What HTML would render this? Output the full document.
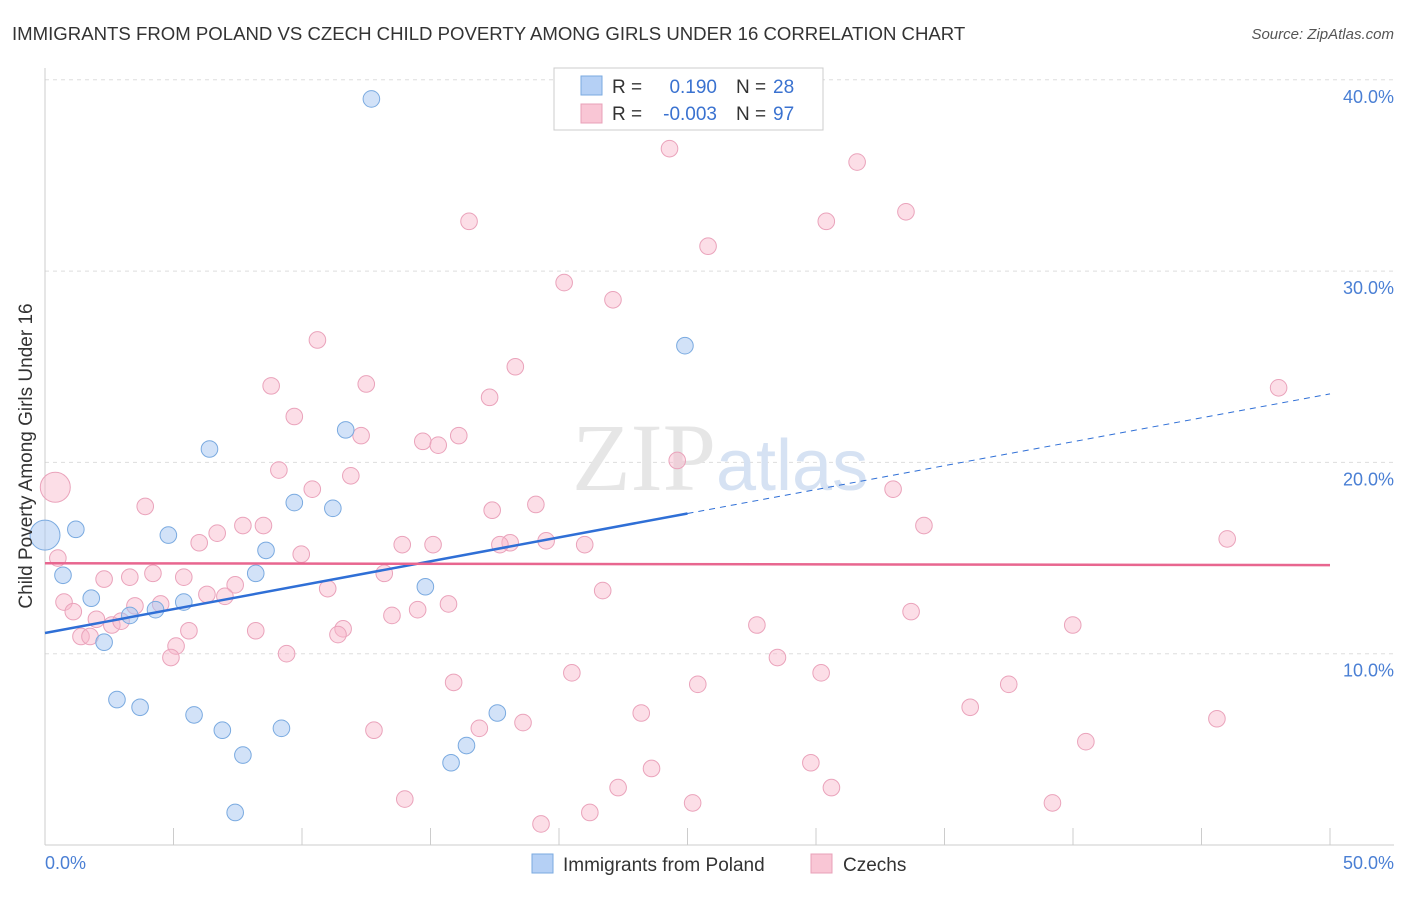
<!DOCTYPE html>
<html><head><meta charset="utf-8"><style>
body{margin:0;background:#fff;font-family:"Liberation Sans",sans-serif;}
</style></head><body>
<svg width="1406" height="892" xmlns="http://www.w3.org/2000/svg">
<text x="12" y="40" font-size="18.6" fill="#333">IMMIGRANTS FROM POLAND VS CZECH CHILD POVERTY AMONG GIRLS UNDER 16 CORRELATION CHART</text>
<text x="1394" y="39" font-size="15" fill="#555" font-style="italic" text-anchor="end">Source: ZipAtlas.com</text>
<g id="grid"></g>
<text x="716" y="490" font-size="96" fill="#e6e6e6" text-anchor="end" font-family="Liberation Serif">ZIP</text>
<text x="716" y="490" font-size="72" fill="#d6e2f3">atlas</text>
<g id="pts"></g>
<g id="lines"></g>
<text x="32" y="456" font-size="19" fill="#333" text-anchor="middle" transform="rotate(-90 32 456)">Child Poverty Among Girls Under 16</text>
<text x="45" y="869" font-size="18" fill="#4a7fd4">0.0%</text>
<text x="1394" y="869" font-size="18" fill="#4a7fd4" text-anchor="end">50.0%</text>
<g>
<rect x="554" y="68" width="269" height="62" fill="#fff" stroke="#ccc"/>
<rect x="581" y="76" width="21" height="19" fill="#b5d0f5" stroke="#7aaae0"/>
<rect x="581" y="104" width="21" height="19" fill="#f9c6d5" stroke="#e8a0b8"/>
<text x="612" y="93" font-size="19" fill="#333">R =</text><text x="717" y="93" font-size="19" fill="#3a72d0" text-anchor="end">0.190</text>
<text x="736" y="93" font-size="19" fill="#333">N =</text><text x="773" y="93" font-size="19" fill="#3a72d0">28</text>
<text x="612" y="120" font-size="19" fill="#333">R =</text><text x="717" y="120" font-size="19" fill="#3a72d0" text-anchor="end">-0.003</text>
<text x="736" y="120" font-size="19" fill="#333">N =</text><text x="773" y="120" font-size="19" fill="#3a72d0">97</text>
</g>
<g>
<rect x="532" y="854" width="21" height="19" fill="#b5d0f5" stroke="#7aaae0"/>
<text x="563" y="871" font-size="19" fill="#333">Immigrants from Poland</text>
<rect x="811" y="854" width="21" height="19" fill="#f9c6d5" stroke="#e8a0b8"/>
<text x="843" y="871" font-size="19" fill="#333">Czechs</text>
</g>
</svg>
<script>
const yTicks=[10,20,30,40];
const xTicks=[0,5,10,15,20,25,30,35,40,45,50];
const blueX=[12.7,24.9,6.4,11.7,9.7,11.2,4.8,1.2,8.6,8.2,0.7,1.8,3.3,4.3,5.4,2.3,14.8,2.8,3.7,5.8,6.9,9.2,7.7,15.8,16.4,17.6,7.4,0];
const blueY=[39.0,26.1,20.7,21.7,17.9,17.6,16.2,16.5,15.4,14.2,14.1,12.9,12.0,12.3,12.7,10.6,13.5,7.6,7.2,6.8,6.0,6.1,4.7,4.3,5.2,6.9,1.7,16.2];
const pinkX=[0.4,0.5,24.3,31.6,33.5,16.5,30.4,25.8,20.2,22.1,10.6,18.3,8.8,12.5,17.3,9.7,12.3,16.1,14.7,15.3,24.6,9.1,11.9,33.0,10.4,3.9,19.1,17.4,34.2,6.7,8.5,7.7,6.0,46.0,13.9,15.1,18.1,19.5,21.0,17.7,9.97,2.3,3.3,4.2,5.4,13.2,7.4,11.0,6.3,7.0,21.7,0.74,1.1,3.5,4.5,15.7,14.5,13.5,33.7,2.0,2.6,2.96,5.6,11.6,11.4,8.2,1.4,1.75,27.7,39.99,5.1,4.9,9.4,28.5,20.5,30.2,15.9,25.4,37.5,36.0,23.2,45.6,18.6,16.9,12.8,40.5,29.8,23.6,30.6,22.3,14.0,25.2,39.2,21.2,19.3,48.0];
const pinkY=[18.7,15.0,36.4,35.7,33.1,32.6,32.6,31.3,29.4,28.5,26.4,25.0,24.0,24.1,23.4,22.4,21.4,21.4,21.1,20.9,20.1,19.6,19.3,18.6,18.6,17.7,17.8,17.5,16.7,16.3,16.7,16.7,15.8,16.0,15.7,15.7,15.8,15.9,15.7,15.7,15.2,13.9,14.0,14.2,14.0,14.2,13.6,13.4,13.1,13.0,13.3,12.7,12.2,12.5,12.6,12.6,12.3,12.0,12.2,11.8,11.5,11.7,11.2,11.3,11.0,11.2,10.9,10.9,11.5,11.5,10.4,9.8,10.0,9.8,9.0,9.0,8.5,8.4,8.4,7.2,6.9,6.6,6.4,6.1,6.0,5.4,4.3,4.0,3.0,3.0,2.4,2.2,2.2,1.7,1.1,23.9];
const blueTrend=[11.08,23.58];
const pinkTrend=[14.73,14.63];
const X=v=>45+v*25.7, Y=v=>845-v*19.13;
const NS="http://www.w3.org/2000/svg";
function mk(t,a,p){const e=document.createElementNS(NS,t);for(const k in a)e.setAttribute(k,a[k]);p.appendChild(e);return e;}
const g=document.getElementById('grid');
yTicks.forEach(v=>{
 const l=mk('line',{x1:45,x2:1394,y1:Y(v),y2:Y(v),stroke:'#ddd','stroke-dasharray':'4 4'},g);
 
 
 const t=mk('text',{x:1394,y:Y(v)+23,'font-size':18,fill:'#4a7fd4','text-anchor':'end'},g);t.textContent=v.toFixed(1)+'%';
 
 
});
mk('line',{x1:45,x2:45,y1:68,y2:845,stroke:'#ccc'},g);
mk('line',{x1:45,x2:1394,y1:845,y2:845,stroke:'#ccc'},g);
xTicks.forEach(v=>{const l=mk('line',{x1:X(v),x2:X(v),y1:828,y2:845,stroke:'#ccc'},g);
 
 });
const p=document.getElementById('pts');
pinkX.forEach((x,i)=>{const c=mk('circle',{cx:X(x),cy:Y(pinkY[i]),r:i==0?15:8.3,fill:'rgba(248,182,202,0.45)',stroke:'#eaa3bb','stroke-width':1},p);
 
 });
blueX.forEach((x,i)=>{const c=mk('circle',{cx:X(x),cy:Y(blueY[i]),r:i==27?15:8.3,fill:'rgba(165,198,242,0.5)',stroke:'#7aaae0','stroke-width':1},p);
 
 });
const L=document.getElementById('lines');
const bAt=v=>blueTrend[0]+(blueTrend[1]-blueTrend[0])*v/50;
const b1=mk('line',{x1:X(0),y1:Y(bAt(0)),x2:X(25),y2:Y(bAt(25)),stroke:'#2f6fd6','stroke-width':2.5},L);


const b2=mk('line',{x1:X(25),y1:Y(bAt(25)),x2:X(50),y2:Y(bAt(50)),stroke:'#2f6fd6','stroke-width':1,'stroke-dasharray':'6 5'},L);


const pl=mk('line',{x1:X(0),y1:Y(pinkTrend[0]),x2:X(50),y2:Y(pinkTrend[1]),stroke:'#e8668f','stroke-width':2.5},L);


</script>
</body></html>
